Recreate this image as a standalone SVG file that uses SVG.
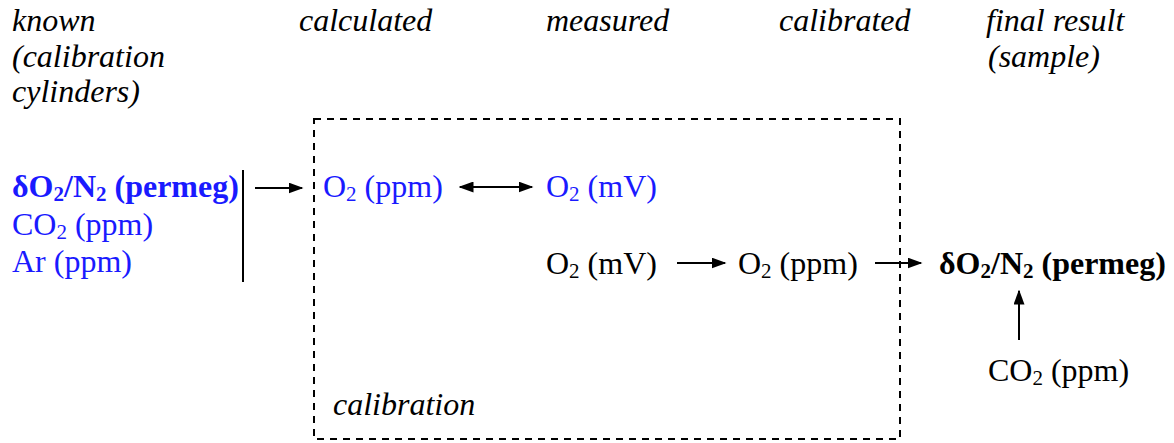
<svg xmlns="http://www.w3.org/2000/svg" width="1174" height="443" viewBox="0 0 1174 443">
<style>
text{font-family:"Liberation Serif","Times New Roman",Times,serif;font-size:32px;fill:#000}
.h{font-style:italic}
.b{fill:#1a1aff}
.bold{font-weight:bold}
.sub{font-size:21px}
.ln{stroke:#000;stroke-width:2;fill:none}
</style>
<defs>
<marker id="ah" viewBox="0 0 10 10" refX="9" refY="5" markerWidth="15" markerHeight="11" markerUnits="userSpaceOnUse" preserveAspectRatio="none" orient="auto-start-reverse">
<path d="M0,0L10,5L0,10z" fill="#000"/>
</marker>
</defs>
<g id="headers">
<text class="h" x="12" y="31">known</text>
<text class="h" x="12" y="67">(calibration</text>
<text class="h" x="12" y="102">cylinders)</text>
<text class="h" x="299" y="31">calculated</text>
<text class="h" x="546" y="31">measured</text>
<text class="h" x="779" y="31">calibrated</text>
<text class="h" x="986" y="31">final result</text>
<text class="h" x="988" y="67">(sample)</text>
</g>
<g id="calibration-box">
<rect x="314" y="119" width="586" height="320" fill="none" stroke="#000" stroke-width="2" stroke-dasharray="7,6"/>
<text class="h" x="333" y="415">calibration</text>
</g>
<g id="known">
<text class="b bold" x="12" y="197">δO<tspan class="sub" dy="4">2</tspan><tspan dy="-4">/N</tspan><tspan class="sub" dy="4">2</tspan><tspan dy="-4"> (permeg)</tspan></text>
<text class="b" x="12" y="235">CO<tspan class="sub" dy="4">2</tspan><tspan dy="-4"> (ppm)</tspan></text>
<text class="b" x="12" y="272">Ar (ppm)</text>
</g>
<g id="calc-o2">
<text class="b" x="323" y="197">O<tspan class="sub" dy="4">2</tspan><tspan dy="-4"> (ppm)</tspan></text>
</g>
<g id="meas-o2-blue">
<text class="b" x="546" y="197">O<tspan class="sub" dy="4">2</tspan><tspan dy="-4"> (mV)</tspan></text>
</g>
<g id="meas-o2">
<text x="546" y="274">O<tspan class="sub" dy="4">2</tspan><tspan dy="-4"> (mV)</tspan></text>
</g>
<g id="calib-o2">
<text x="738" y="274">O<tspan class="sub" dy="4">2</tspan><tspan dy="-4"> (ppm)</tspan></text>
</g>
<g id="final">
<text class="bold" x="939" y="274">δO<tspan class="sub" dy="4">2</tspan><tspan dy="-4">/N</tspan><tspan class="sub" dy="4">2</tspan><tspan dy="-4"> (permeg)</tspan></text>
</g>
<g id="sample-co2">
<text x="988" y="381">CO<tspan class="sub" dy="4">2</tspan><tspan dy="-4"> (ppm)</tspan></text>
</g>
<g id="connectors">
<line class="ln" x1="243" y1="170" x2="243" y2="282"/>
<line class="ln" x1="255" y1="188" x2="302" y2="188" marker-end="url(#ah)"/>
<line class="ln" x1="460" y1="187" x2="532" y2="187" marker-start="url(#ah)" marker-end="url(#ah)"/>
<line class="ln" x1="677" y1="263" x2="725" y2="263" marker-end="url(#ah)"/>
<line class="ln" x1="875" y1="263" x2="921" y2="263" marker-end="url(#ah)"/>
<line class="ln" x1="1019" y1="340" x2="1019" y2="291" marker-end="url(#ah)"/>
</g>
</svg>
